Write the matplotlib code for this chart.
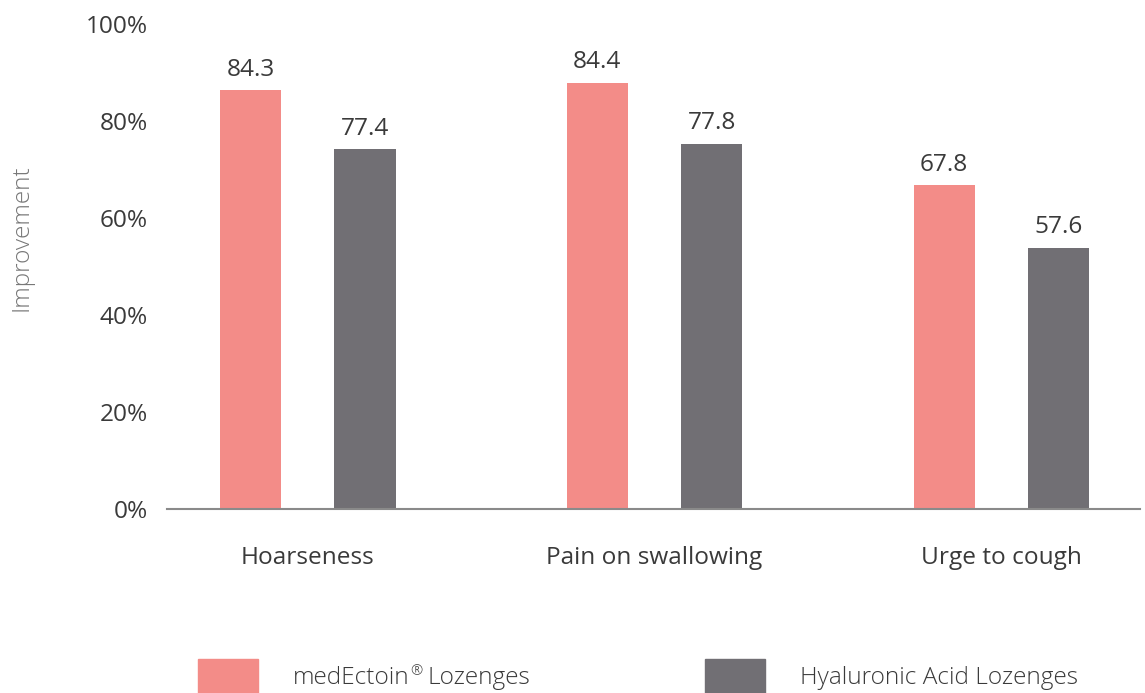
import matplotlib
matplotlib.use("Agg")
import matplotlib.pyplot as plt
from matplotlib.patches import Rectangle
import numpy as np

plt.rcParams['font.family'] = ['Open Sans', 'DejaVu Sans']

# Data (bar heights, labels as printed)
categories = ["Hoarseness", "Pain on swallowing", "Urge to cough"]
series_names = [("medEctoin", "\u00ae", "Lozenges"), ("Hyaluronic Acid Lozenges", "", "")]
medectoin_heights = [86.4, 87.9, 66.8]
hyaluronic_heights = [74.2, 75.3, 53.9]
medectoin_labels = ["84.3", "84.4", "67.8"]
hyaluronic_labels = ["77.4", "77.8", "57.6"]
yticks = [0, 20, 40, 60, 80, 100]

PINK = "#F38C88"
GREY = "#716F74"
TEXT = "#3a3a3a"
FS = 17.6

fig = plt.figure(figsize=(11.45, 6.93), dpi=100)
ax = fig.add_axes([167 / 1145, 1 - 509 / 693, 973 / 1145, 485 / 693])

x = np.arange(len(categories))
w = 0.176
off = 0.165
b1 = ax.bar(x - off, medectoin_heights, w, color=PINK)
b2 = ax.bar(x + off, hyaluronic_heights, w, color=GREY)

for bars, labels in [(b1, medectoin_labels), (b2, hyaluronic_labels)]:
    for rect, lab in zip(bars, labels):
        ax.annotate(lab, (rect.get_x() + rect.get_width() / 2, rect.get_height()),
                    xytext=(0, 6), textcoords="offset points",
                    ha="center", va="bottom", fontsize=FS, color=TEXT)

ax.set_xlim(-0.406, 2.4)
ax.set_ylim(0, 100)
ax.set_yticks(yticks)
ax.set_yticklabels([f"{t}%" for t in yticks])
ax.set_xticks(x)
ax.set_xticklabels(categories)
ax.tick_params(axis="y", length=0, pad=14, labelsize=FS, labelcolor=TEXT)
ax.tick_params(axis="x", length=0, pad=27, labelsize=FS, labelcolor=TEXT)
for s in ["top", "right", "left"]:
    ax.spines[s].set_visible(False)
ax.spines["bottom"].set_color("#8a8a8a")
ax.spines["bottom"].set_linewidth(1.5)

fig.text(22 / 1145, 1 - 238 / 693, "Improvement", rotation=90, ha="center",
         va="center", fontsize=FS, color="#777777", fontweight="light")

# legend
renderer = fig.canvas.get_renderer()
for px, parts, col in [(198, series_names[0], PINK), (705, series_names[1], GREY)]:
    fig.patches.append(Rectangle((px / 1145, 0), 60 / 1145, 34 / 693,
                                 transform=fig.transFigure, color=col))
    xpos = (px + 95) / 1145
    ybase = 1 - 678 / 693
    t = fig.text(xpos, ybase, parts[0], ha="left", va="center",
                 fontsize=FS, color=TEXT, fontweight="light")
    if parts[1]:
        bb = t.get_window_extent(renderer)
        t2 = fig.text((bb.x1 + 1) / 1145, ybase + 6 / 693, parts[1], ha="left",
                      va="center", fontsize=FS * 0.6, color=TEXT, fontweight="light")
        bb = t2.get_window_extent(renderer)
        fig.text((bb.x1 + 5) / 1145, ybase, parts[2], ha="left", va="center",
                 fontsize=FS, color=TEXT, fontweight="light")

fig.savefig("out.png", dpi=100)
